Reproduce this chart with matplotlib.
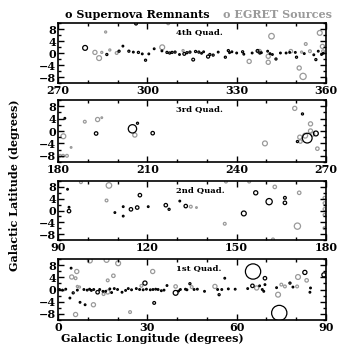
import numpy as np
import matplotlib
matplotlib.use('Agg')
import matplotlib.pyplot as plt
from matplotlib.ticker import MultipleLocator

plt.rcParams['font.family'] = 'DejaVu Serif'
plt.rcParams['font.weight'] = 'bold'

# supernova remnants: longitude, latitude, marker diameter (pt)
snr_l = [279.1, 286.4, 290.5, 291.8, 293.8, 295.3, 297.0, 298.3, 299.4, 300.5, 302.3, 304.9,
         306.6, 307.5, 308.3, 309.3, 310.8, 312.4, 313.3, 314.3, 315.4, 316.2, 317.3, 318.2,
         318.9, 320.4, 321.0, 322.1, 323.8, 326.2, 327.2, 327.6, 328.4, 330.0, 332.0, 332.4,
         335.2, 337.0, 337.8, 338.3, 340.4, 341.2, 342.0, 343.2, 344.7, 346.6, 347.8, 349.7,
         350.1, 352.7, 355.9, 356.6, 357.4, 358.5, 359.1, 296.2,
         182.3, 192.8, 205.0, 206.7, 211.8, 262.1, 263.7, 266.6, 260.4,
         93.2, 93.7, 93.7, 109.1, 111.9, 111.9, 114.5, 116.6, 117.5, 120.3, 126.2, 127.3,
         130.9, 132.9, 152.4, 156.4, 160.9, 166.2, 166.2,
         0.5, 1.5, 2.6, 4.0, 4.4, 5.1, 6.5, 7.4, 8.7, 9.1, 9.8, 10.6, 11.2, 12.0, 13.3, 14.0,
         15.1, 16.0, 17.4, 18.0, 18.9, 20.0, 21.5, 22.7, 23.6, 24.7, 26.3, 27.4, 28.6, 29.2,
         29.7, 31.0, 31.9, 32.3, 32.8, 33.6, 34.7, 35.6, 36.6, 39.5, 40.5, 41.1, 42.8, 43.3,
         44.3, 45.7, 46.8, 49.2, 53.6, 54.1, 55.0, 56.0, 57.2, 59.5, 63.7, 65.3, 65.5, 67.7,
         68.6, 69.5, 69.1, 69.5, 74.3, 77.9, 82.9, 84.8, 84.6, 89.3, 78.9, 73.4]
snr_b = [1.7, -0.5, 0.6, 2.3, 0.6, 0.3, 0.2, -0.3, -2.4, -0.3, 1.4, 0.7,
         0.2, 0.0, 0.2, 0.3, -0.5, -0.3, 0.1, 0.3, -2.2, 0.5, 0.3, -0.1,
         0.4, -1.2, -0.5, -0.7, 0.3, -1.4, 0.8, 0.1, 0.4, 0.0, 0.4, -0.4,
         0.0, 0.7, 0.0, 0.1, 0.6, -0.2, -0.5, -2.0, 0.0, 0.0, 0.2, 0.2,
         -1.4, -0.2, -0.6, -2.2, 0.6, -0.5, -0.1, 9.8,
         4.1, -0.8, 0.7, 2.5, -0.7, 5.5, -2.3, -0.8, -3.4,
         7.2, -0.2, 1.1, -0.7, 1.3, -1.9, 0.4, 1.0, 5.2, 1.3, 1.8, 0.4,
         3.2, 1.5, -1.0, 6.0, 3.0, 4.3, 2.6,
         0.0, -0.2, 0.1, -2.8, 7.0, -1.1, -0.2, -4.2, 0.0, -5.0, -0.2, 0.1, -0.3, 0.0, -0.9, 0.0,
         -0.6, -0.6, 0.2, -1.0, 0.3, 0.0, -0.9, -0.3, 0.3, -0.1, 0.3, 0.0, -0.1, 2.1,
         0.1, -0.1, 0.0, -4.4, 0.1, 0.0, -0.4, -0.2, 1.3, -1.1, -0.5, 0.0, 0.1, -0.1,
         1.9, 0.0, 0.1, -0.6, 0.0, -1.7, 0.0, 3.7, 0.2, 0.1, 0.3, 1.2, 5.9, 1.2,
         0.0, 3.7, -0.6, 1.6, -7.7, 2.1, 5.6, 0.5, -0.9, 4.8, 0.8, 0.6]
snr_size = [3.5, 1.5, 1.5, 1.2, 1.5, 1.2, 1.5, 1.2, 1.5, 1.2, 1.2, 1.2,
            1.5, 1.5, 1.5, 1.5, 1.2, 2.0, 1.5, 1.5, 2.0, 1.5, 1.5, 1.2,
            1.2, 2.2, 1.5, 1.5, 1.2, 1.5, 1.5, 1.2, 1.2, 1.2, 1.5, 1.2,
            1.2, 2.0, 1.5, 1.2, 1.2, 1.2, 1.2, 1.5, 1.2, 1.2, 1.2, 1.2,
            1.5, 1.2, 1.2, 1.5, 1.2, 1.2, 1.2, 2.0,
            1.2, 2.5, 6.0, 1.5, 2.5, 1.5, 7.0, 3.5, 1.5,
            1.2, 2.5, 1.2, 1.2, 1.2, 1.2, 2.5, 2.5, 2.5, 1.2, 2.5, 1.5,
            1.2, 2.5, 3.5, 3.0, 4.5, 2.0, 2.5,
            1.2, 1.2, 1.2, 1.2, 1.2, 1.5, 1.2, 1.2, 1.2, 1.2, 1.2, 1.2, 1.2, 1.2, 2.5, 1.2,
            1.2, 1.2, 1.2, 1.2, 1.2, 1.2, 1.2, 1.2, 1.2, 1.2, 1.2, 1.2, 1.2, 3.0,
            1.2, 1.2, 1.2, 2.0, 1.2, 1.2, 1.2, 1.2, 1.2, 3.5, 1.2, 1.2, 1.2, 1.2,
            1.5, 1.2, 1.2, 1.2, 1.2, 1.5, 1.2, 1.2, 1.2, 1.2, 1.2, 2.5, 11.0, 1.2,
            1.2, 2.5, 1.2, 1.2, 11.0, 1.5, 3.0, 1.2, 1.2, 3.0, 1.2, 1.2]

# EGRET sources: longitude, latitude, marker diameter (pt)
egret_l = [282.4, 283.8, 284.7, 286.0, 287.4, 289.7, 305.0, 307.0, 312.0, 334.2, 337.6, 340.6,
           340.6, 341.7, 348.2, 351.0, 352.3, 353.2, 351.8, 354.6, 357.9, 358.8, 359.0,
           181.8, 180.7, 181.7, 183.0, 184.4, 189.0, 193.3, 194.7, 205.8, 249.5, 259.5, 264.8,
           264.8, 261.2, 261.4, 267.1, 265.5, 263.0,
           97.7, 107.1, 106.3, 134.6, 136.5, 146.4, 154.2, 146.0, 162.8, 171.0, 170.4, 162.2,
           179.5, 179.5, 179.5, 179.5, 179.5,
           4.6, 6.3, 5.9, 10.7, 16.3, 20.2, 18.6, 16.7, 11.9, 24.2, 5.9, 31.8, 16.7, 39.5,
           44.9, 52.7, 66.7, 73.9, 75.0, 76.2, 80.3, 80.6, 83.5, 6.5, 7.2, 28.0, 15.3]
egret_b = [0.2, -1.7, 0.2, 7.0, 1.0, 0.0, 1.9, 9.9, 0.8, -2.8, 0.5, -1.1,
           -3.1, 5.6, 0.6, -5.0, -7.8, 3.0, 0.3, 0.6, 6.7, 2.2, 0.6,
           -1.7, -8.0, -8.0, -8.0, -5.3, 3.0, 3.7, 4.3, -1.3, -4.0, 7.3, 2.3,
           0.0, -2.0, -3.4, -5.7, -1.0, -1.5,
           9.6, 8.5, 3.4, 1.3, 1.0, 9.8, 9.8, -4.5, 8.0, 6.0, -5.3, -9.8,
           4.3, 2.5, 0.5, -1.5, -6.0,
           4.1, 5.9, 3.7, 9.5, 9.7, 8.6, 4.5, 3.0, -5.0, -7.4, -8.2, 5.9, -0.8, 1.0,
           0.8, 1.0, 0.5, -1.7, 1.6, 1.0, 1.0, 4.1, 3.0, 1.0, 0.8, 1.2, -1.5]
egret_size = [3.0, 3.5, 1.5, 1.5, 1.5, 2.0, 3.5, 2.0, 1.5, 3.0, 3.0, 3.0,
              3.0, 4.0, 2.5, 3.0, 4.5, 2.0, 1.5, 2.0, 3.5, 3.0, 2.0,
              3.5, 2.0, 2.0, 2.0, 1.2, 2.0, 3.0, 1.2, 3.0, 3.5, 3.0, 3.0,
              3.0, 3.0, 2.5, 2.5, 3.0, 3.5,
              2.0, 4.0, 2.0, 2.0, 1.2, 2.0, 2.0, 2.0, 2.5, 2.5, 4.5, 2.0,
              2.0, 2.0, 2.0, 2.0, 2.0,
              3.0, 3.0, 2.0, 3.5, 3.5, 3.5, 2.5, 2.0, 3.0, 2.0, 3.0, 3.0, 3.0, 2.5,
              2.0, 3.0, 3.0, 3.5, 2.0, 2.0, 2.0, 3.5, 2.5, 1.5, 1.5, 2.0, 2.0]

quad_lo = [270, 180, 90, 0]
quad_names = ['4th Quad.', '3rd Quad.', '2nd Quad.', '1st Quad.']
lat_ticks = [-8, -4, 0, 4, 8]

grey = '#9a9a9a'
snr_l, snr_b, snr_size = np.array(snr_l), np.array(snr_b), np.array(snr_size)
egret_l, egret_b, egret_size = np.array(egret_l), np.array(egret_b), np.array(egret_size)

fig = plt.figure(figsize=(3.46, 3.46), dpi=100)
W = 346.0
# panel boxes in pixels (top, bottom)
boxes = [(23, 83), (100, 162), (181, 240), (259, 320)]
x0, x1 = 58, 326

for (top, bot), lo, name in zip(boxes, quad_lo, quad_names):
    ax = fig.add_axes([x0 / W, 1 - bot / W, (x1 - x0) / W, (bot - top) / W])
    hi = lo + 90
    m = (egret_l >= lo) & (egret_l <= hi)
    ax.scatter(egret_l[m], egret_b[m], s=egret_size[m] ** 2, facecolors='none',
               edgecolors=grey, linewidths=0.9)
    m = (snr_l >= lo) & (snr_l <= hi)
    ax.scatter(snr_l[m], snr_b[m], s=snr_size[m] ** 2, facecolors='none',
               edgecolors='black', linewidths=0.9)
    ax.set_xlim(lo, hi)
    ax.set_ylim(-10, 10)
    ax.set_xticks(range(lo, hi + 1, 30))
    ax.xaxis.set_minor_locator(MultipleLocator(10))
    ax.set_yticks(lat_ticks)
    ax.set_yticklabels([str(t).replace('-', '\u2212') for t in lat_ticks])
    ax.yaxis.set_minor_locator(MultipleLocator(2))
    ax.tick_params(which='both', direction='in', top=True, right=True, width=1.0,
                   labelsize=8, pad=1.5)
    ax.tick_params(which='major', length=4)
    ax.tick_params(which='minor', length=2)
    for sp in ax.spines.values():
        sp.set_linewidth(1.2)
    ax.text(0.44, 0.85, name, transform=ax.transAxes, fontsize=6, va='center',
            fontweight='bold')

fig.text(65 / W, 1 - 15 / W, 'o Supernova Remnants', fontsize=8, va='center',
         color='black', fontweight='bold')
fig.text(223 / W, 1 - 15 / W, 'o EGRET Sources', fontsize=8, va='center',
         color=grey, fontweight='bold')
fig.text(152 / W, 1 - 339 / W, 'Galactic Longitude (degrees)', fontsize=8,
         ha='center', va='center', fontweight='bold')
fig.text(15 / W, 1 - 185 / W, 'Galactic Latitude (degrees)', fontsize=8,
         ha='center', va='center', rotation=90, fontweight='bold')

fig.savefig('out.png', dpi=100)
